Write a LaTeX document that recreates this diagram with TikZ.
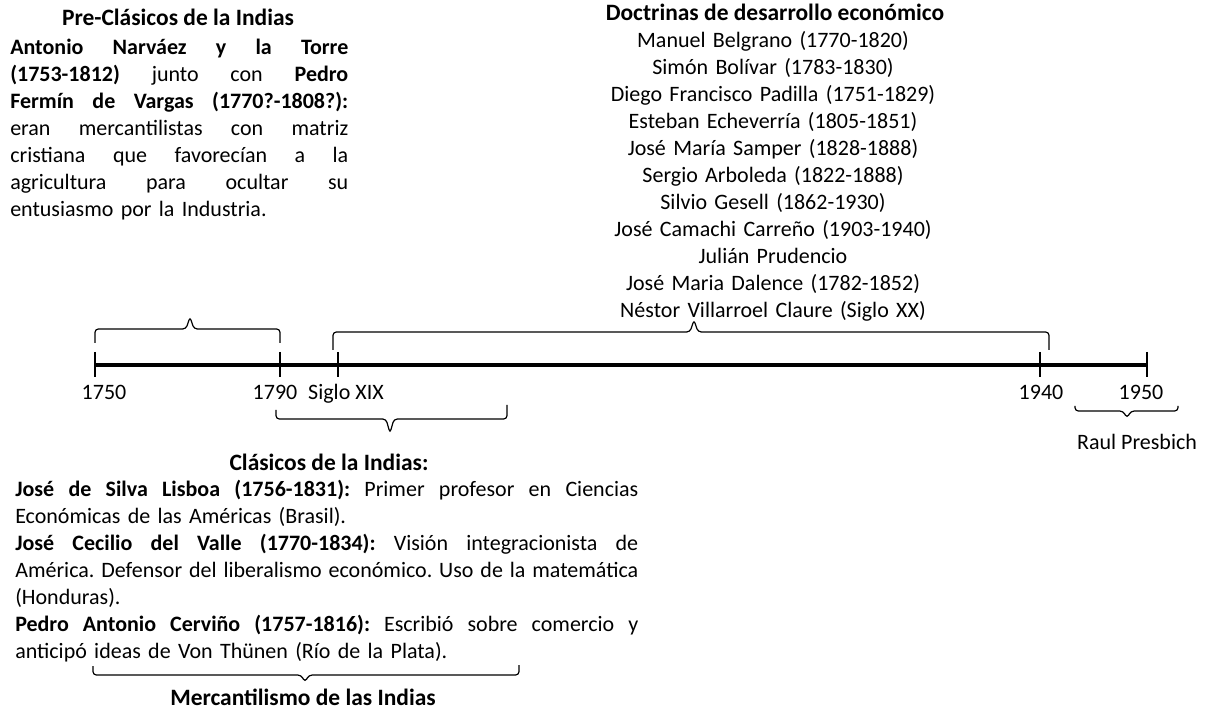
\documentclass[tikz,border=0pt]{standalone}
\usepackage{fontspec}
\setmainfont{Carlito}
\newcommand\jline[2]{\leavevmode\hbox to #1{\spaceskip=0.226em plus 1fil\relax #2}}
\begin{document}
\begin{tikzpicture}[x=0.75pt,y=-0.75pt,
  body/.style={font=\fontsize{16.5}{20.2}\selectfont\frenchspacing, inner sep=0pt, text=black},
  ttl/.style={font=\fontsize{17.6}{21}\selectfont\bfseries\frenchspacing, inner sep=0pt, text=black},
  bracepath/.style={draw=black, line width=0.9pt, rounded corners=2.5pt},
  axis/.style={line width=3.2pt},
  tickmark/.style={line width=2.2pt}]
\fill[white] (0,0) rectangle (1208,709);
\useasboundingbox (0,0) rectangle (1208,709);

% timeline
\coordinate (t1750) at (95,365);
\coordinate (t1790) at (280,365);
\coordinate (tXIX) at (338,365);
\coordinate (t1940) at (1040,365);
\coordinate (t1950) at (1147,365);
\draw[axis] (t1750) -- (t1950);
\foreach \c in {t1750,t1790,tXIX,t1940,t1950}
  \draw[tickmark] ([yshift=9.75pt]\c) -- ([yshift=-9pt]\c);

% year labels
\node[body, anchor=base] (y1750) at (104,400) {1750};
\node[body, anchor=base] (y1790) at (275,400) {1790};
\node[body, anchor=base] (yXIX) at (346,400) {Siglo XIX};
\node[body, anchor=base] (y1940) at (1041,400) {1940};
\node[body, anchor=base] (y1950) at (1141,400) {1950};
\node[body, anchor=base] (raul) at (1137,450) {Raul Presbich};

% braces
\draw[bracepath] (95,343) -- (95,329) -- (186,329) -- (190,317) -- (194,329) -- (280,329) -- (280,343);
\draw[bracepath] (333,350) -- (333,332) -- (690,332) -- (694,320) -- (698,332) -- (1049,332) -- (1049,350);
\draw[bracepath] (276,410) -- (276,419) -- (386,419) -- (390,433) -- (394,419) -- (507,419) -- (507,405);
\draw[bracepath] (1075,406) -- (1075,411) -- (1123,411) -- (1127,418) -- (1131,411) -- (1178,411) -- (1178,406);
\draw[bracepath] (93,666) -- (93,675) -- (301,675) -- (305,682) -- (309,675) -- (519,675) -- (519,665);

% Pre-clasicos
\node[ttl, anchor=base] (pretitle) at (178,26) {Pre-Clásicos de la Indias};
\node[body, anchor=base west, text width=253.5pt, align=left] (pre) at (10,55) {%
\jline{253.5pt}{\textbf{Antonio Narváez y la Torre}}\\
\jline{253.5pt}{\textbf{(1753-1812)} junto con \textbf{Pedro}}\\
\jline{253.5pt}{\textbf{Fermín de Vargas (1770?-1808?):}}\\
\jline{253.5pt}{eran mercantilistas con matriz}\\
\jline{253.5pt}{cristiana que favorecían a la}\\
\jline{253.5pt}{agricultura para ocultar su}\\
entusiasmo por la Industria.};

% Doctrinas
\node[ttl, anchor=base] (doctitle) at (775,21) {Doctrinas de desarrollo económico};
\node[body, anchor=base, text width=450pt, align=center] (doc) at (773,48) {%
Manuel Belgrano (1770-1820)\\
Simón Bolívar (1783-1830)\\
Diego Francisco Padilla (1751-1829)\\
Esteban Echeverría (1805-1851)\\
José María Samper (1828-1888)\\
Sergio Arboleda (1822-1888)\\
Silvio Gesell (1862-1930)\\
José Camachi Carreño (1903-1940)\\
Julián Prudencio\\
José Maria Dalence (1782-1852)\\
Néstor Villarroel Claure (Siglo XX)};

% Clasicos
\node[ttl, anchor=base] (clatitle) at (329,471) {Clásicos de la Indias:};
\node[body, anchor=base west, text width=467.25pt, align=left] (cla) at (15,497) {%
\jline{467.25pt}{\textbf{José de Silva Lisboa (1756-1831):} Primer profesor en Ciencias}\\
Económicas de las Américas (Brasil).\\
\jline{467.25pt}{\textbf{José Cecilio del Valle (1770-1834):} Visión integracionista de}\\
\jline{467.25pt}{América. Defensor del liberalismo económico. Uso de la matemática}\\
(Honduras).\\
\jline{467.25pt}{\textbf{Pedro Antonio Cerviño (1757-1816):} Escribió sobre comercio y}\\
anticipó ideas de Von Thünen (Río de la Plata).};
\node[ttl, anchor=base] (merc) at (303,705) {Mercantilismo de las Indias};
\end{tikzpicture}
\end{document}
